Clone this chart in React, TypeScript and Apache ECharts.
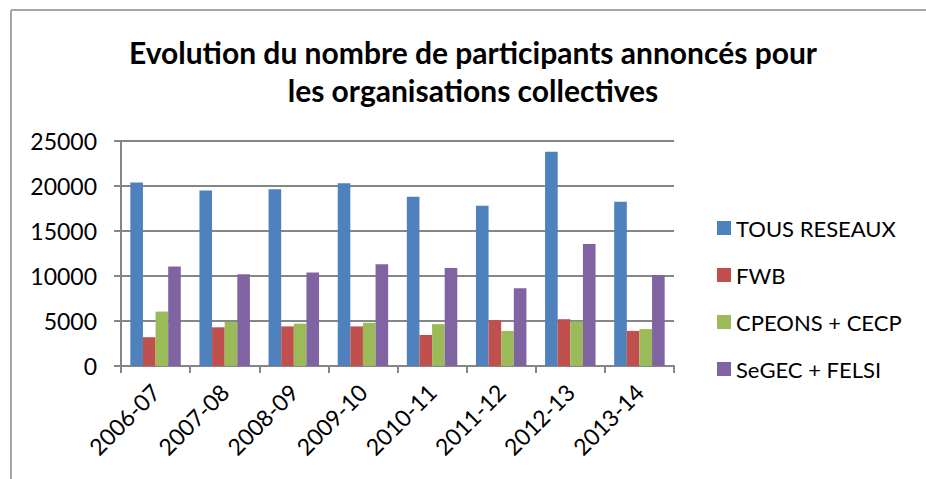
import React, { useEffect, useRef } from "react";
import * as echarts from "echarts";

const categories = ["2006-07", "2007-08", "2008-09", "2009-10", "2010-11", "2011-12", "2012-13", "2013-14"];
const tousReseaux = [20400, 19500, 19650, 20300, 18800, 17800, 23800, 18250];
const fwb = [3200, 4300, 4400, 4400, 3450, 5100, 5200, 3900];
const cpeons = [6050, 4900, 4700, 4800, 4650, 3900, 4950, 4100];
const segec = [11050, 10200, 10400, 11300, 10900, 8650, 13550, 10100];
const yTicks = [0, 5000, 10000, 15000, 20000, 25000];
const titleLines = ["Evolution du nombre de participants annoncés pour", "les organisations collectives"];

const FONT = "Lato, 'Open Sans', sans-serif";

export default function App() {
  const ref = useRef<HTMLDivElement>(null);
  useEffect(() => {
    if (!ref.current) return;
    const chart = echarts.init(ref.current, undefined, { renderer: "svg" });
    const mk = (name: string, data: number[], color: string) => ({
      name,
      type: "bar",
      data,
      barGap: "0%",
      barCategoryGap: "27%",
      itemStyle: { color },
    });
    chart.setOption({
      animation: false,
      backgroundColor: "#ffffff",
      textStyle: { fontFamily: FONT },
      graphic: [
        { type: "line", shape: { x1: 11, y1: 10, x2: 926, y2: 10 }, style: { stroke: "#a6a6a6", lineWidth: 2 } },
        { type: "line", shape: { x1: 11, y1: 10, x2: 11, y2: 479 }, style: { stroke: "#a6a6a6", lineWidth: 2 } },
        {
          type: "text",
          style: { text: titleLines[0], x: 473, y: 52, textAlign: "center", textVerticalAlign: "middle", fontSize: 30, fontWeight: "bold", fontFamily: FONT, fill: "#000" },
        },
        {
          type: "text",
          style: { text: titleLines[1], x: 473, y: 90, textAlign: "center", textVerticalAlign: "middle", fontSize: 30, fontWeight: "bold", fontFamily: FONT, fill: "#000" },
        },
      ],
      legend: {
        orient: "vertical",
        left: 717,
        top: 217,
        padding: 0,
        itemWidth: 14,
        itemHeight: 14,
        itemGap: 25,
        icon: "rect",
        textStyle: { fontSize: 22, color: "#000", fontFamily: FONT, padding: [0, 0, 0, 0] },
        data: ["TOUS RESEAUX", "FWB", "CPEONS + CECP", "SeGEC + FELSI"],
      },
      grid: { left: 121, right: 252, top: 141, bottom: 113, containLabel: false },
      xAxis: {
        type: "category",
        data: categories,
        axisLine: { lineStyle: { color: "#868686", width: 2 } },
        axisTick: { show: true, length: 7, lineStyle: { color: "#868686", width: 2 } },
        axisLabel: { rotate: 45, fontSize: 23, color: "#000", margin: 22, fontFamily: FONT },
      },
      yAxis: {
        type: "value",
        min: yTicks[0],
        max: yTicks[yTicks.length - 1],
        interval: 5000,
        axisLine: { show: true, lineStyle: { color: "#868686", width: 2 } },
        axisTick: { show: true, length: 7, lineStyle: { color: "#868686", width: 2 } },
        axisLabel: { fontSize: 23, color: "#000", margin: 24, fontFamily: FONT, formatter: (v: number) => String(v) },
        splitLine: { lineStyle: { color: "#868686", width: 2 } },
      },
      series: [
        mk("TOUS RESEAUX", tousReseaux, "#4F81BD"),
        mk("FWB", fwb, "#C0504D"),
        mk("CPEONS + CECP", cpeons, "#9BBB59"),
        mk("SeGEC + FELSI", segec, "#8064A2"),
      ],
    });
    return () => chart.dispose();
  }, []);
  return <div ref={ref} style={{ position: "fixed", left: 0, top: 0, width: 926, height: 479 }} />;
}
